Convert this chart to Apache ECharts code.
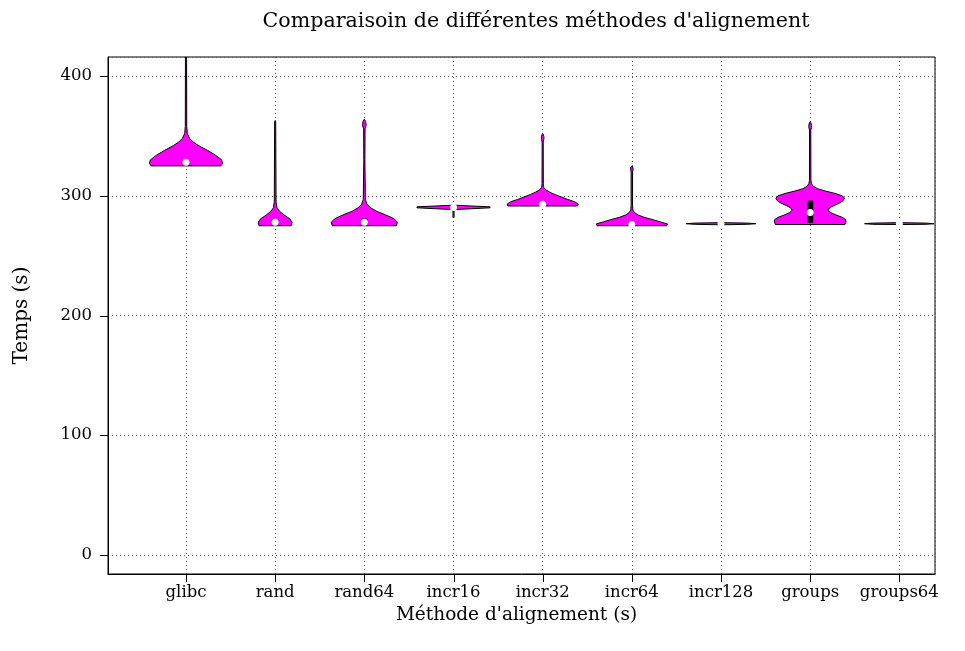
<!DOCTYPE html>
<html>
<head>
<meta charset="utf-8">
<script src="https://cdn.jsdelivr.net/npm/echarts@6/dist/echarts.min.js"></script>
<style>
  html, body { margin: 0; padding: 0; background: #fff; }
  #chart { width: 965px; height: 651px; }
</style>
</head>
<body>
<div id="chart"></div>
<script>
// categories along the x axis (positions 1..9)
var categories = ['glibc', 'rand', 'rand64', 'incr16', 'incr32', 'incr64', 'incr128', 'groups', 'groups64'];

// violin outlines: [time (s), half width in category units]
var glibcProfile = [[325, 0.39], [327, 0.41], [330, 0.40], [334, 0.33], [338, 0.24], [342, 0.14], [345, 0.08],
    [348, 0.04], [352, 0.015], [358, 0.008], [430, 0.006]];
var randProfile = [[275, 0.18], [278, 0.19], [281, 0.16], [284, 0.10], [287, 0.05], [290, 0.02], [295, 0.01],
    [362, 0.006], [363, 0]];
var rand64Profile = [[275, 0.36], [278, 0.37], [281, 0.33], [284, 0.24], [287, 0.14], [290, 0.07], [293, 0.03],
    [297, 0.012], [330, 0.006], [356, 0.008], [359, 0.02], [362, 0.015], [364, 0]];
var incr16Profile = [[281.5, 0], [282, 0.006], [288.5, 0.006], [289.2, 0.2], [290, 0.41], [290.8, 0.41],
    [291.5, 0.2], [292.2, 0]];
var incr32Profile = [[291.5, 0.39], [293, 0.40], [295, 0.36], [297, 0.28], [299, 0.21], [301, 0.14], [303, 0.08],
    [305, 0.035], [307, 0.012], [310, 0.007], [345, 0.006], [347, 0.012], [349, 0.015], [351, 0.008], [352, 0]];
var incr64Profile = [[275, 0.39], [276.5, 0.40], [278, 0.33], [280, 0.24], [282, 0.14], [284, 0.07], [286, 0.03],
    [288, 0.012], [292, 0.008], [320, 0.008], [322, 0.015], [324, 0.01], [325, 0]];
var incr128Profile = [[274.5, 0], [275, 0.005], [275.8, 0.006], [276.2, 0.3], [276.7, 0.39], [277.2, 0.3], [277.6, 0]];
var groupsProfile = [[276, 0.39], [278, 0.40], [280, 0.40], [282, 0.36], [284, 0.29], [286, 0.23], [288, 0.20],
    [290, 0.22], [292, 0.27], [294, 0.33], [296, 0.37], [298, 0.385], [300, 0.36], [302, 0.28], [304, 0.17],
    [306, 0.08], [308, 0.035], [310, 0.015], [313, 0.008], [355, 0.007], [357, 0.015], [359, 0.015], [361, 0.008], [362, 0]];
var groups64Profile = [[276, 0.005], [276.2, 0.3], [276.7, 0.39], [277.2, 0.3], [277.6, 0]];

var profiles = [glibcProfile, randProfile, rand64Profile, incr16Profile, incr32Profile,
    incr64Profile, incr128Profile, groupsProfile, groups64Profile];

// medians and interquartile box
var medians = [328, 278, 278, 290.3, 293, 276, 276.7, 286, 276.7];
var q1Values = [326, 276, 276, 290, 292, 275.5, 276.5, 277.5, 276.5];
var q3Values = [330, 280, 281, 290.6, 295, 278, 276.9, 296, 276.9];

var yTicks = [0, 100, 200, 300, 400];
var xTicks = [1, 2, 3, 4, 5, 6, 7, 8, 9];

var X_MIN = 0.125, X_MAX = 9.4;
var Y_MIN = -16, Y_MAX = 416;

var violinData = categories.map(function (c, i) {
    return [i + 1, medians[i], q1Values[i], q3Values[i]];
});

var serif = '"DejaVu Serif", "Liberation Serif", serif';

function renderViolin(params, api) {
    var x = api.value(0);
    var prof = profiles[params.dataIndex];
    var pts = [];
    var i;
    for (i = 0; i < prof.length; i++) {
        pts.push(api.coord([x + prof[i][1], prof[i][0]]));
    }
    for (i = prof.length - 1; i >= 0; i--) {
        pts.push(api.coord([x - prof[i][1], prof[i][0]]));
    }
    var q1 = api.coord([x, api.value(2)]);
    var q3 = api.coord([x, api.value(3)]);
    var med = api.coord([x, api.value(1)]);
    var boxHalf = api.size([0.035, 0])[0];
    return {
        type: 'group',
        children: [{
            type: 'polygon',
            shape: { points: pts },
            style: { fill: '#ff00ff', stroke: '#000', lineWidth: 1 }
        }, {
            type: 'rect',
            shape: { x: q1[0] - boxHalf, y: q3[1], width: boxHalf * 2, height: q1[1] - q3[1] },
            style: { fill: '#000' }
        }, {
            type: 'circle',
            shape: { cx: med[0], cy: med[1], r: 3.5 },
            style: { fill: '#fff' }
        }]
    };
}

// outward tick marks, placed through the axes' scales
function renderTick(params, api) {
    var p = api.coord([api.value(0), api.value(1)]);
    var isX = api.value(2) === 0;
    var x1 = isX ? Math.round(p[0]) + 0.5 : p[0];
    var y1 = isX ? p[1] : Math.round(p[1]) + 0.5;
    return {
        type: 'line',
        shape: { x1: x1, y1: y1, x2: isX ? x1 : x1 - 8, y2: isX ? y1 + 8 : y1 },
        style: { stroke: '#000', lineWidth: 1 },
        z2: 100
    };
}

var tickData = xTicks.map(function (v) { return [v, Y_MIN, 0]; })
    .concat(yTicks.map(function (v) { return [X_MIN, v, 1]; }));

var gridLine = { show: true, lineStyle: { color: '#555', type: [1, 3], width: 1 } };

var chart = echarts.init(document.getElementById('chart'));
chart.setOption({
    animation: false,
    backgroundColor: '#fff',
    title: {
        text: 'Comparaisoin de différentes méthodes d\'alignement',
        left: 531,
        top: 6,
        textAlign: 'center',
        textStyle: { fontFamily: serif, fontSize: 20.6, fontWeight: 'normal', color: '#000' }
    },
    grid: {
        left: 108, right: 30, top: 57, bottom: 77,
        show: true, borderColor: '#000', borderWidth: 1
    },
    xAxis: {
        type: 'value',
        min: X_MIN,
        max: X_MAX,
        minInterval: 1,
        maxInterval: 1,
        name: 'Méthode d\'alignement (s)',
        nameLocation: 'middle',
        nameGap: 26,
        nameTextStyle: { fontFamily: serif, fontSize: 18.5, color: '#000', verticalAlign: 'top', padding: [0, 10, 0, 0] },
        axisLine: { onZero: false, lineStyle: { color: '#000', width: 1 } },
        axisTick: { show: false },
        axisLabel: {
            customValues: xTicks,
            margin: 10,
            fontFamily: serif, fontSize: 16.5, color: '#000',
            formatter: function (v) { return categories[Math.round(v) - 1] || ''; }
        },
        splitLine: gridLine
    },
    yAxis: {
        type: 'value',
        min: Y_MIN,
        max: Y_MAX,
        minInterval: 100,
        maxInterval: 100,
        name: 'Temps (s)',
        nameLocation: 'middle',
        nameGap: 76,
        nameRotate: 90,
        nameTextStyle: { fontFamily: serif, fontSize: 20, color: '#000' },
        axisLine: { show: true, onZero: false, lineStyle: { color: '#000', width: 1 } },
        axisTick: { show: false },
        axisLabel: {
            customValues: yTicks,
            margin: 16,
            fontFamily: serif, fontSize: 16.5, color: '#000'
        },
        splitLine: gridLine
    },
    series: [{
        type: 'custom',
        clip: true,
        renderItem: renderViolin,
        data: violinData
    }, {
        type: 'custom',
        clip: false,
        silent: true,
        z: 10,
        renderItem: renderTick,
        data: tickData
    }]
});
</script>
</body>
</html>
